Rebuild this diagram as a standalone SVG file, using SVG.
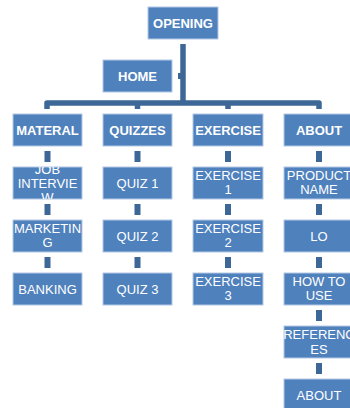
<svg xmlns="http://www.w3.org/2000/svg" width="350" height="408" viewBox="0 0 350 408">
<style>
.box{fill:#4F81BD;stroke:#B3C8E4;stroke-width:1}
.t{font-family:"Liberation Sans",Arial,sans-serif;font-size:13px;fill:#FFFFFF;text-anchor:middle}
.b{font-weight:bold}
.c{stroke:#3D6797;fill:none;stroke-width:5.5}
.s{fill:#3D6797}
</style>
<defs>
<clipPath id="cJob"><rect x="13" y="167" width="69" height="32"/></clipPath>
<clipPath id="cRef"><rect x="284" y="326" width="70" height="32"/></clipPath>
</defs>
<g id="connectors">
<path class="c" d="M183 44 V103"/>
<path class="c" d="M47 109 V103 H319 V109" stroke-linejoin="round"/>
<path class="c" d="M137.5 103 V109 M228 103 V109"/>
<rect class="s" x="178" y="73" width="3" height="6"/>
<rect class="s" x="44.5" y="151" width="6" height="11"/>
<rect class="s" x="44.5" y="204" width="6" height="11"/>
<rect class="s" x="44.5" y="257" width="6" height="11"/>
<rect class="s" x="134.5" y="151" width="6" height="11"/>
<rect class="s" x="134.5" y="204" width="6" height="11"/>
<rect class="s" x="134.5" y="257" width="6" height="11"/>
<rect class="s" x="225" y="151" width="6" height="11"/>
<rect class="s" x="225" y="204" width="6" height="11"/>
<rect class="s" x="225" y="257" width="6" height="11"/>
<rect class="s" x="316" y="151" width="6" height="11"/>
<rect class="s" x="316" y="204" width="6" height="11"/>
<rect class="s" x="316" y="257" width="6" height="11"/>
<rect class="s" x="316" y="310" width="6" height="11"/>
<rect class="s" x="316" y="363" width="6" height="11"/>
</g>
<g id="opening"><rect class="box" x="148" y="7" width="70" height="32"/><text class="t b" x="183" y="27.5">OPENING</text></g>
<g id="home"><rect class="box" x="103" y="60" width="69" height="32"/><text class="t b" x="137.5" y="80.5">HOME</text></g>
<g id="materal"><rect class="box" x="13" y="114" width="69" height="32"/><text class="t b" x="47.5" y="134.5">MATERAL</text></g>
<g id="quizzes"><rect class="box" x="103" y="114" width="69" height="32"/><text class="t b" x="137.5" y="134.5">QUIZZES</text></g>
<g id="exercise"><rect class="box" x="193" y="114" width="70" height="32"/><text class="t b" x="228" y="134.5">EXERCISE</text></g>
<g id="about"><rect class="box" x="284" y="114" width="70" height="32"/><text class="t b" x="319" y="134.5">ABOUT</text></g>
<g id="job-interview"><rect class="box" x="13" y="167" width="69" height="32"/><text class="t" x="47.5" clip-path="url(#cJob)"><tspan x="47.5" y="173.7">JOB</tspan><tspan x="47.5" y="187.7">INTERVIE</tspan><tspan x="47.5" y="201.7">W</tspan></text></g>
<g id="marketing"><rect class="box" x="13" y="220" width="69" height="32"/><text class="t"><tspan x="47.5" y="232.7">MARKETIN</tspan><tspan x="47.5" y="246.7">G</tspan></text></g>
<g id="banking"><rect class="box" x="13" y="273" width="69" height="32"/><text class="t" x="47.5" y="293.7">BANKING</text></g>
<g id="quiz1"><rect class="box" x="103" y="167" width="69" height="32"/><text class="t" x="137.5" y="187.7">QUIZ 1</text></g>
<g id="quiz2"><rect class="box" x="103" y="220" width="69" height="32"/><text class="t" x="137.5" y="240.7">QUIZ 2</text></g>
<g id="quiz3"><rect class="box" x="103" y="273" width="69" height="32"/><text class="t" x="137.5" y="293.7">QUIZ 3</text></g>
<g id="exercise1"><rect class="box" x="193" y="167" width="70" height="32"/><text class="t"><tspan x="228" y="179.7">EXERCISE</tspan><tspan x="228" y="193.7">1</tspan></text></g>
<g id="exercise2"><rect class="box" x="193" y="220" width="70" height="32"/><text class="t"><tspan x="228" y="232.7">EXERCISE</tspan><tspan x="228" y="246.7">2</tspan></text></g>
<g id="exercise3"><rect class="box" x="193" y="273" width="70" height="32"/><text class="t"><tspan x="228" y="285.7">EXERCISE</tspan><tspan x="228" y="299.7">3</tspan></text></g>
<g id="product-name"><rect class="box" x="284" y="167" width="70" height="32"/><text class="t"><tspan x="319" y="179.7">PRODUCT</tspan><tspan x="319" y="193.7">NAME</tspan></text></g>
<g id="lo"><rect class="box" x="284" y="220" width="70" height="32"/><text class="t" x="319" y="240.7">LO</text></g>
<g id="how-to-use"><rect class="box" x="284" y="273" width="70" height="32"/><text class="t"><tspan x="319" y="285.7">HOW TO</tspan><tspan x="319" y="299.7">USE</tspan></text></g>
<g id="references"><rect class="box" x="284" y="326" width="70" height="32"/><text class="t" clip-path="url(#cRef)"><tspan x="319" y="338.7">REFERENC</tspan><tspan x="319" y="353.7">ES</tspan></text></g>
<g id="about2"><rect class="box" x="284" y="379" width="70" height="32"/><text class="t" x="319" y="399.7">ABOUT</text></g>
</svg>
